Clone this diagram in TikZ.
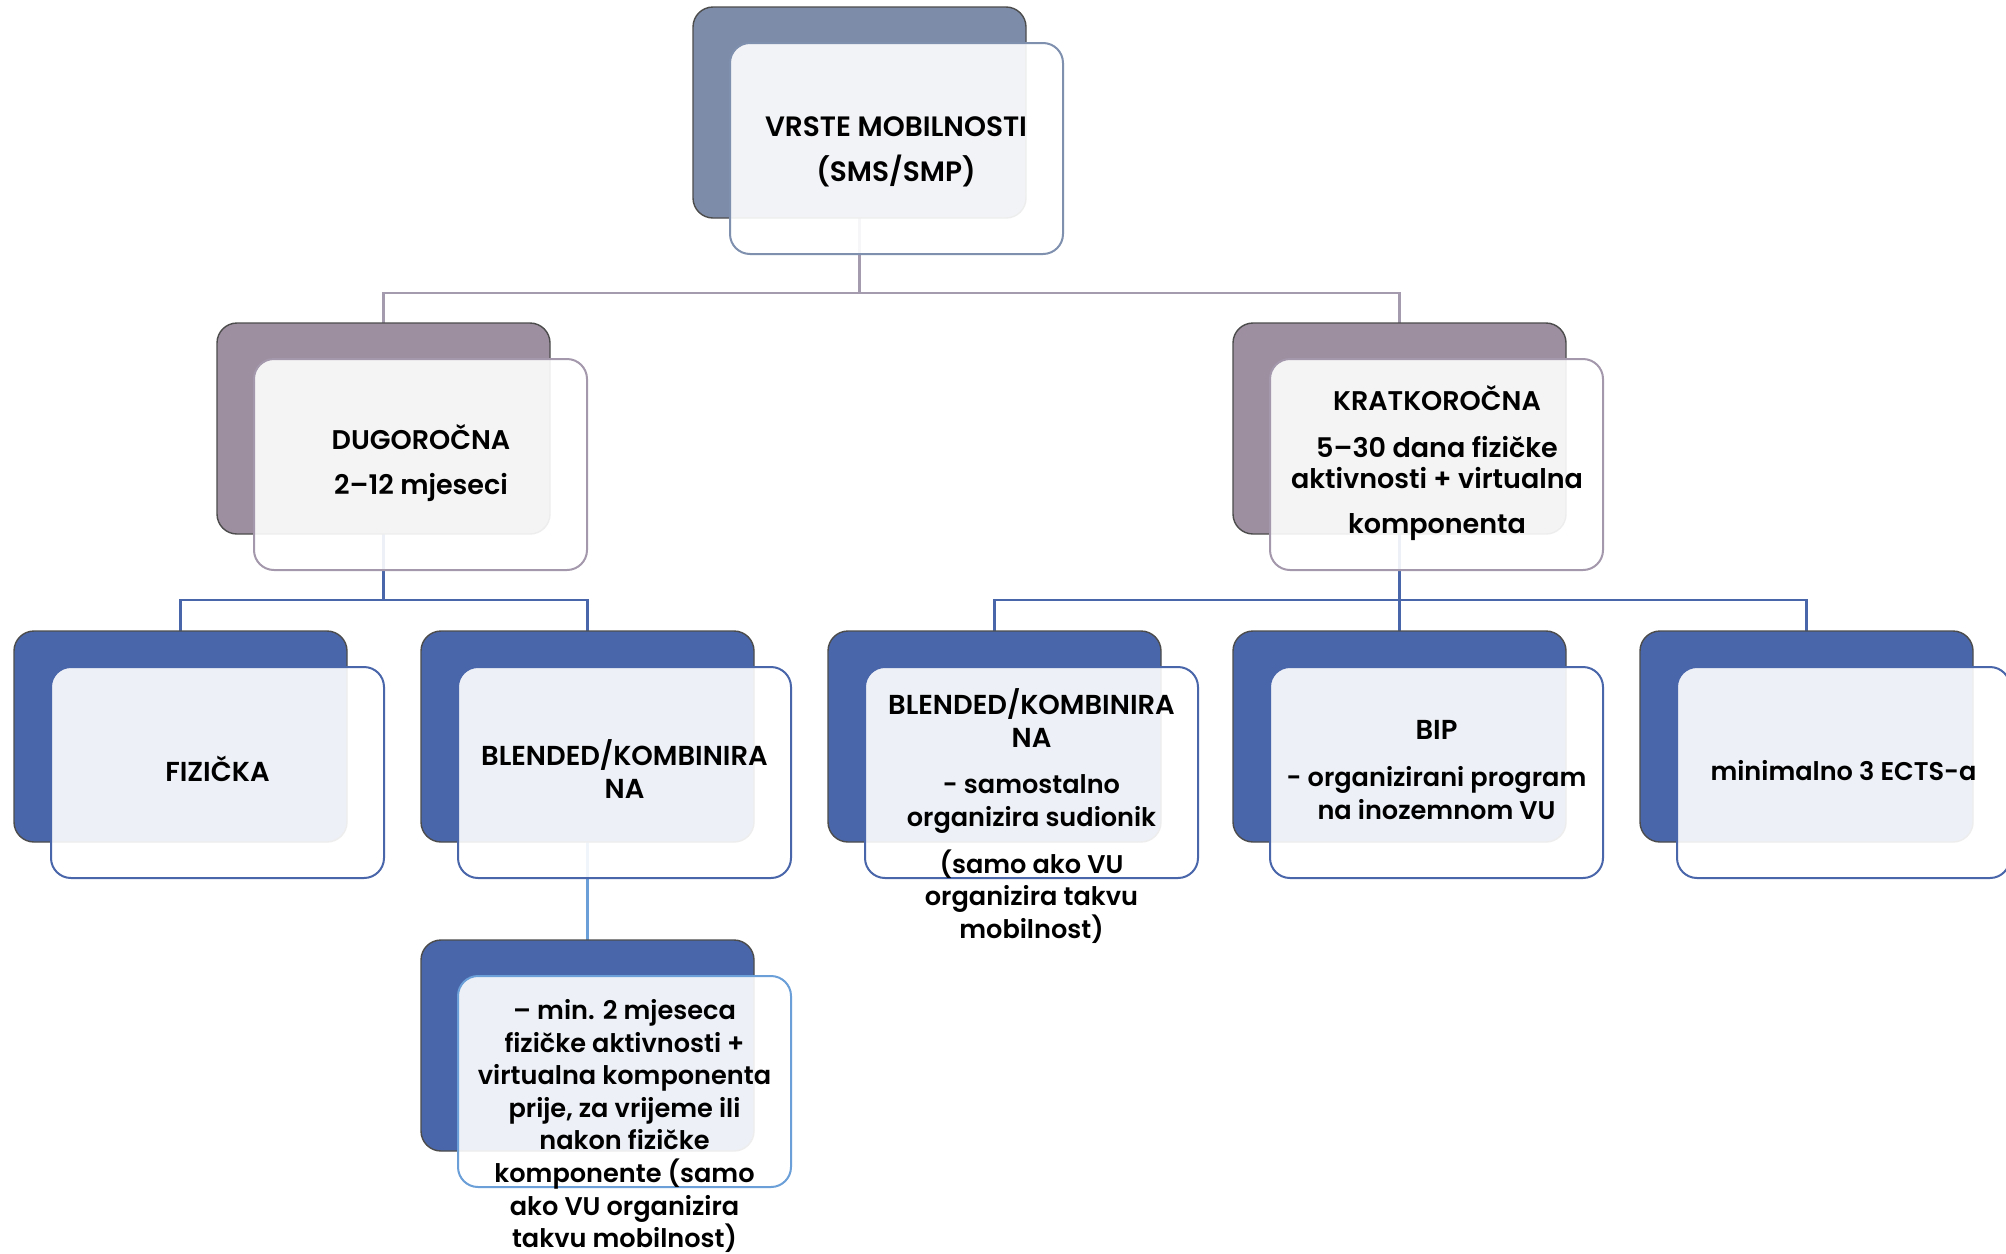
\documentclass[tikz,border=0pt]{standalone}
\usepackage{fontspec}
\setmainfont{Poppins}[BoldFont={Poppins SemiBold}]
\usetikzlibrary{backgrounds}
\definecolor{topback}{HTML}{7D8DA9}
\definecolor{topedge}{HTML}{7F90AF}
\definecolor{midback}{HTML}{9D8FA0}
\definecolor{midedge}{HTML}{A398AC}
\definecolor{midline}{HTML}{A59BAE}
\definecolor{lowback}{HTML}{4A66AA}
\definecolor{childedge}{HTML}{6A9FD8}
\newcommand\capsz{\fontsize{13.7}{16.3}\selectfont}
\tikzset{
  backbox/.style={draw=black!70, line width=0.7pt, rounded corners=10pt, minimum width=166.5pt, minimum height=105.5pt, anchor=north west, inner sep=0pt, outer sep=0pt},
  frontbox/.style={fill=white, fill opacity=0.9, line width=1pt, rounded corners=10pt, minimum width=166.5pt, minimum height=105.5pt, anchor=north west, inner sep=0pt, outer sep=0pt},
  lbl/.style={align=center, font=\bfseries\fontsize{14}{16}\selectfont, text=black, inner sep=0pt},
  lblm/.style={align=center, font=\bfseries\fontsize{13.5}{15.5}\selectfont, text=black, inner sep=0pt},
  lbls/.style={align=center, font=\bfseries\fontsize{12.8}{16.3}\selectfont, text=black, inner sep=0pt},
  conn/.style={line width=1.2pt},
}
\newcommand\boxpair[5]{%
  \node[backbox, fill=#4] (#1) at (#2,#3) {};
  \node[frontbox, draw=#5] (#1f) at (#2+37,#3+36) {};
}
\begin{document}
\begin{tikzpicture}[x=0.5pt, y=-0.5pt]
\useasboundingbox (0,0) rectangle (2006,1253);
\clip (0,0) rectangle (2006,1253);
\boxpair{top}{693}{7}{topback}{topedge}
\boxpair{dug}{217}{323}{midback}{midedge}
\boxpair{kra}{1233}{323}{midback}{midedge}
\boxpair{fiz}{14}{631}{lowback}{lowback}
\boxpair{blo}{421}{631}{lowback}{lowback}
\boxpair{chi}{421}{940}{lowback}{childedge}
\boxpair{blt}{828}{631}{lowback}{lowback}
\boxpair{bip}{1233}{631}{lowback}{lowback}
\boxpair{min}{1640}{631}{lowback}{lowback}
\coordinate (busa) at (0,293);
\coordinate (busb) at (0,600);
\begin{scope}[on background layer]
  \fill[white] (0,0) rectangle (2006,1253);
  \draw[conn, midline] (top.south) -- (top.south |- busa) -| (dug.north);
  \draw[conn, midline] (top.south |- busa) -| (kra.north);
  \draw[conn, lowback] (dug.south) -- (dug.south |- busb) -| (fiz.north);
  \draw[conn, lowback] (dug.south |- busb) -| (blo.north);
  \draw[conn, lowback] (kra.south) -- (kra.south |- busb) -| (blt.north);
  \draw[conn, lowback] (kra.south |- busb) -| (min.north);
  \draw[conn, lowback] (kra.south |- busb) -- (bip.north);
  \draw[conn, childedge] (blo.south) -- (chi.north);
\end{scope}
\node[lbl] (topt) at (896,152) {VRSTE MOBILNOSTI\\[6.5pt](SMS/SMP)};
\node[lblm] (dugt) at (421,463) {DUGOROČNA\\[7pt]2–12 mjeseci};
\node[lblm] (krat) at (1437,463) {KRATKOROČNA\\[8pt]5–30 dana fizičke\\aktivnosti + virtualna\\[7pt]komponenta};
\node[lbls] (fizt) at (217.5,769) {{\capsz FIZIČKA}};
\node[lbls] (blot) at (624.5,769) {{\capsz BLENDED/KOMBINIRA}\\{\capsz NA}};
\node[lbls] (bltt) at (1031.5,816) {{\capsz BLENDED/KOMBINIRA}\\{\capsz NA}\\[7pt]- samostalno\\organizira sudionik\\[7pt](samo ako VU\\organizira takvu\\mobilnost)};
\node[lbls] (bipt) at (1436.5,770) {{\capsz BIP}\\[7pt]- organizirani program\\na inozemnom VU};
\node[lbls] (mint) at (1843.5,771) {minimalno 3 ECTS-a};
\node[lbls] (chit) at (624.5,1126) {– min. 2 mjeseca\\fizičke aktivnosti +\\virtualna komponenta\\prije, za vrijeme ili\\nakon fizičke\\komponente (samo\\ako VU organizira\\takvu mobilnost)};
\end{tikzpicture}
\end{document}
